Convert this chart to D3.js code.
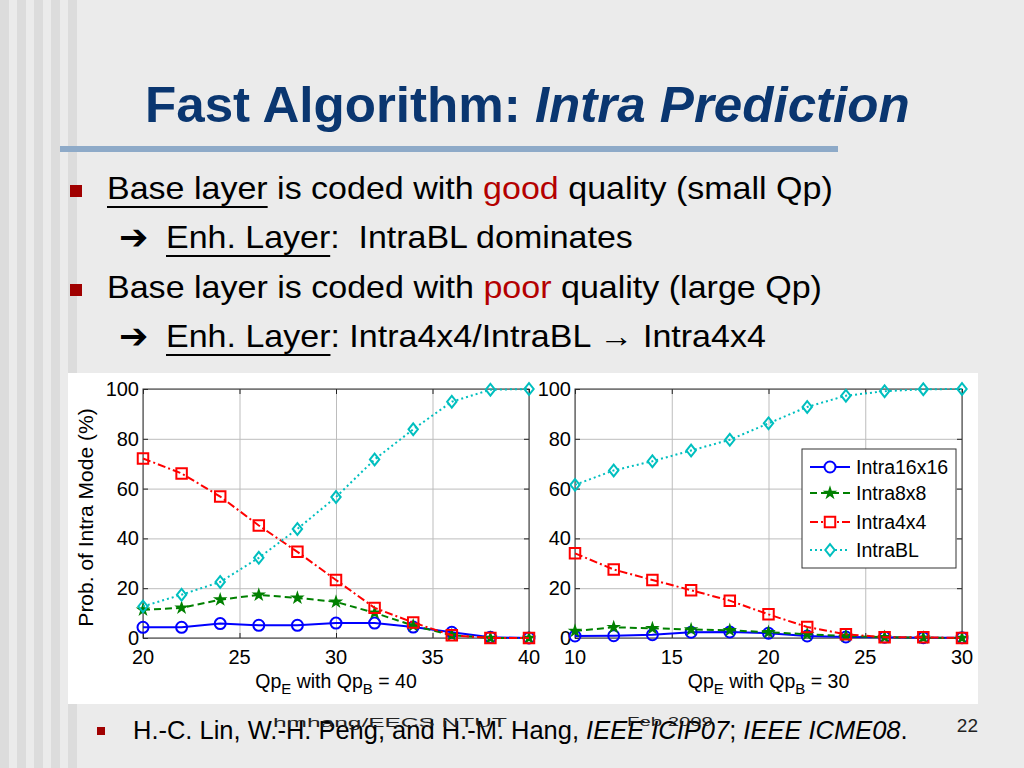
<!DOCTYPE html>
<html>
<head>
<meta charset="utf-8">
<script src="https://cdnjs.cloudflare.com/ajax/libs/d3/7.8.5/d3.min.js"></script>
<style>
html, body { margin: 0; padding: 0; background: #ebebeb; overflow: hidden; }
text { font-family: "Liberation Sans", Arial, sans-serif; }
</style>
</head>
<body>
<script>
// data
const modes = ['Intra16x16', 'Intra8x8', 'Intra4x4', 'IntraBL']
const qpLeft = [20, 22, 24, 26, 28, 30, 32, 34, 36, 38, 40]
const leftIntra16 = [4.3, 4.3, 5.8, 5.1, 5.1, 6.0, 6.0, 4.4, 2.3, 0.3, 0]
const leftIntra8 = [11.3, 12.1, 15.4, 17.3, 16.1, 14.5, 10.1, 5.0, 1.1, 0, 0]
const leftIntra4 = [72.1, 66.1, 56.8, 45.2, 34.6, 23.3, 12.1, 6.2, 1.1, 0, 0]
const leftIntraBL = [12.7, 17.4, 22.5, 32.2, 43.8, 56.6, 71.7, 83.8, 94.9, 99.7, 100]
const qpRight = [10, 12, 14, 16, 18, 20, 22, 24, 26, 28, 30]
const rightIntra16 = [0.8, 0.9, 1.3, 2.3, 2.4, 1.9, 0.8, 0.4, 0.3, 0.1, 0.1]
const rightIntra8 = [2.8, 4.3, 3.9, 3.4, 3.1, 2.3, 1.5, 0.8, 0.3, 0.1, 0]
const rightIntra4 = [34.0, 27.5, 23.3, 19.2, 15.0, 9.5, 4.4, 1.5, 0.3, 0.3, 0]
const rightIntraBL = [61.5, 67.3, 71.0, 75.3, 79.6, 86.2, 92.8, 97.3, 99.1, 99.9, 100]
const xTicksLeft = [20, 25, 30, 35, 40]
const xTicksRight = [10, 15, 20, 25, 30]
const yTicks = [0, 20, 40, 60, 80, 100]

// matlab style diamond, a bit wider than d3's own
const wideDiamond = {
  draw(ctx, size) {
    const h = Math.sqrt(size / 0.8)
    const w = h * 0.8 / 2
    ctx.moveTo(0, -h / 2)
    ctx.lineTo(w, 0)
    ctx.lineTo(0, h / 2)
    ctx.lineTo(-w, 0)
    ctx.closePath()
  }
}

const styles = [
  { color: '#0000ff', dash: null, symbol: d3.symbolCircle, size: 95, fill: 'none' },
  { color: '#008000', dash: '7,4', symbol: d3.symbolStar, size: 22, fill: '#008000' },
  { color: '#ff0000', dash: '8,3,2,3', symbol: d3.symbolSquare, size: 110, fill: 'none' },
  { color: '#00bfbf', dash: '2,3', symbol: wideDiamond, size: 110, fill: 'none' }
]

const W = 1024, H = 768
const svg = d3.select('body').append('svg')
  .attr('width', W)
  .attr('height', H)

// slide background and left stripes
svg.append('rect').attr('width', W).attr('height', H).attr('fill', '#ebebeb')
const stripes = [0, 17, 34, 51, 68]
svg.selectAll('rect.stripe')
  .data(stripes)
  .enter()
  .append('rect')
  .attr('class', 'stripe')
  .attr('x', d => d)
  .attr('y', 0)
  .attr('width', 9)
  .attr('height', H)
  .attr('fill', '#dcdcdc')

// draws a run of styled pieces, then stretches it to the wanted width
function richLine(x, y, segs, size, target, base) {
  const g = svg.append('g').attr('transform', `translate(${x},${y})`)
  const t = g.append('text')
    .attr('font-size', size)
    .attr('fill', base || '#000')
    .style('white-space', 'pre')
  segs.forEach(s => {
    const sp = t.append('tspan').text(s.t)
    if (s.c) sp.attr('fill', s.c)
    if (s.i) sp.attr('font-style', 'italic')
    if (s.b) sp.attr('font-weight', 'bold')
  })
  const w = t.node().getComputedTextLength()
  const sx = target ? target / w : 1
  g.attr('transform', `translate(${x},${y}) scale(${sx},1)`)
  let idx = 0
  segs.forEach(s => {
    if (s.u) {
      const a = t.node().getStartPositionOfChar(idx).x
      const b = t.node().getEndPositionOfChar(idx + s.t.length - 1).x
      g.append('line')
        .attr('x1', a).attr('x2', b)
        .attr('y1', 8).attr('y2', 8)
        .attr('stroke', '#000')
        .attr('stroke-width', 2)
    }
    idx += s.t.length
  })
  return g
}

// title + rule
richLine(145, 122, [{ t: 'Fast Algorithm: ', b: true }, { t: 'Intra Prediction', b: true, i: true }], 50, 765, '#0a3670')
svg.append('rect').attr('x', 60).attr('y', 146).attr('width', 778).attr('height', 6).attr('fill', '#8eaac8')

// bullets
const bullets = [{ x: 70, y: 185 }, { x: 70, y: 284 }]
svg.selectAll('rect.bullet')
  .data(bullets)
  .enter()
  .append('rect')
  .attr('class', 'bullet')
  .attr('x', d => d.x).attr('y', d => d.y)
  .attr('width', 12).attr('height', 12)
  .attr('fill', '#a00000')

richLine(107, 199, [
  { t: 'Base layer', u: true }, { t: ' is coded with ' }, { t: 'good', c: '#b40000' }, { t: ' quality (small Qp)' }
], 31, 726)
richLine(166, 248, [
  { t: 'Enh. Layer', u: true }, { t: ':  IntraBL dominates' }
], 31, 467)
richLine(107, 298, [
  { t: 'Base layer is coded with ' }, { t: 'poor', c: '#b40000' }, { t: ' quality (large Qp)' }
], 31, 715)
richLine(166, 347, [
  { t: 'Enh. Layer', u: true }, { t: ': Intra4x4/IntraBL \u2192 Intra4x4' }
], 31, 600)

const arrows = [249, 348]
svg.selectAll('text.arrow')
  .data(arrows)
  .enter()
  .append('text')
  .attr('class', 'arrow')
  .attr('x', 119).attr('y', d => d)
  .attr('font-size', 35)
  .attr('font-weight', 'bold')
  .style('font-family', '"DejaVu Sans", sans-serif')
  .text('\u2794')

// white chart panel
svg.append('rect')
  .attr('x', 68).attr('y', 373)
  .attr('width', 910).attr('height', 331)
  .attr('fill', '#ffffff')

const y = d3.scaleLinear().domain([0, 100]).range([638, 389])

function panel(xs, series, xTicks, x0, x1, qpB, withYLabel) {
  const x = d3.scaleLinear().domain([xs[0], xs[xs.length - 1]]).range([x0, x1])
  const g = svg.append('g')
  const top = y(100), bot = y(0)

  // grid
  g.append('g')
    .attr('transform', `translate(0,${bot})`)
    .call(d3.axisBottom(x).tickValues(xTicks).tickSize(-(bot - top)).tickFormat(''))
    .call(a => a.select('.domain').remove())
    .call(a => a.selectAll('line').attr('stroke', '#bdbdbd').attr('stroke-width', 1))
  g.append('g')
    .attr('transform', `translate(${x0},0)`)
    .call(d3.axisLeft(y).tickValues(yTicks).tickSize(-(x1 - x0)).tickFormat(''))
    .call(a => a.select('.domain').remove())
    .call(a => a.selectAll('line').attr('stroke', '#bdbdbd').attr('stroke-width', 1))

  // inward ticks on all four sides
  const tk = 5
  const axes = [
    d3.axisBottom(x).tickValues(xTicks).tickSize(-tk).tickFormat(''),
    d3.axisTop(x).tickValues(xTicks).tickSize(-tk).tickFormat(''),
    d3.axisLeft(y).tickValues(yTicks).tickSize(-tk).tickFormat(''),
    d3.axisRight(y).tickValues(yTicks).tickSize(-tk).tickFormat('')
  ]
  const shifts = [`translate(0,${bot})`, `translate(0,${top})`, `translate(${x0},0)`, `translate(${x1},0)`]
  axes.forEach((ax, i) => {
    g.append('g')
      .attr('transform', shifts[i])
      .call(ax)
      .call(a => a.select('.domain').remove())
      .call(a => a.selectAll('line').attr('stroke', '#222'))
  })
  g.append('rect')
    .attr('x', x0).attr('y', top)
    .attr('width', x1 - x0).attr('height', bot - top)
    .attr('fill', 'none')
    .attr('stroke', '#333')
    .attr('stroke-width', 1)

  // tick labels
  g.selectAll('text.xl')
    .data(xTicks)
    .enter()
    .append('text')
    .attr('x', d => x(d)).attr('y', 664)
    .attr('text-anchor', 'middle')
    .attr('font-size', 20)
    .text(d => d)
  g.selectAll('text.yl')
    .data(yTicks)
    .enter()
    .append('text')
    .attr('x', x0 - 4).attr('y', d => y(d) + 7)
    .attr('text-anchor', 'end')
    .attr('font-size', 20)
    .text(d => d)

  // axis title with subscripts
  const xl = g.append('text')
    .attr('x', (x0 + x1) / 2).attr('y', 688)
    .attr('text-anchor', 'middle')
    .attr('font-size', 19.5)
  xl.append('tspan').text('Qp')
  xl.append('tspan').text('E').attr('font-size', 15).attr('dy', 6)
  xl.append('tspan').text(' with Qp').attr('dy', -6)
  xl.append('tspan').text('B').attr('font-size', 15).attr('dy', 6)
  xl.append('tspan').text(' = ' + qpB).attr('dy', -6)

  if (withYLabel) {
    g.append('text')
      .attr('transform', `translate(93,${(top + bot) / 2 + 4}) rotate(-90)`)
      .attr('text-anchor', 'middle')
      .attr('font-size', 21)
      .text('Prob. of Intra Mode (%)')
  }

  // series
  const line = d3.line().x((d, i) => x(xs[i])).y(d => y(d))
  series.forEach((vals, k) => {
    const st = styles[k]
    g.append('path')
      .datum(vals)
      .attr('d', line)
      .attr('fill', 'none')
      .attr('stroke', st.color)
      .attr('stroke-width', 2)
      .attr('stroke-dasharray', st.dash)
    g.selectAll('path.m' + k)
      .data(vals)
      .enter()
      .append('path')
      .attr('class', 'm' + k)
      .attr('transform', (d, i) => `translate(${x(xs[i])},${y(d)})`)
      .attr('d', d3.symbol().type(st.symbol).size(st.size))
      .attr('fill', st.fill)
      .attr('stroke', st.color)
      .attr('stroke-width', 2)
  })
  return x
}

panel(qpLeft, [leftIntra16, leftIntra8, leftIntra4, leftIntraBL], xTicksLeft, 143, 529, 40, true)
panel(qpRight, [rightIntra16, rightIntra8, rightIntra4, rightIntraBL], xTicksRight, 575, 962, 30, false)

// legend
const lg = svg.append('g').attr('transform', 'translate(802,449)')
lg.append('rect')
  .attr('width', 154).attr('height', 119)
  .attr('fill', '#fff')
  .attr('stroke', '#333')
const rows = [18, 44, 73, 101]
modes.forEach((m, k) => {
  const st = styles[k]
  const ry = rows[k]
  lg.append('line')
    .attr('x1', 8).attr('x2', 48)
    .attr('y1', ry).attr('y2', ry)
    .attr('stroke', st.color)
    .attr('stroke-width', 2)
    .attr('stroke-dasharray', st.dash)
  lg.append('path')
    .attr('transform', `translate(28,${ry})`)
    .attr('d', d3.symbol().type(st.symbol).size(st.size))
    .attr('fill', st.fill === 'none' ? '#fff' : st.fill)
    .attr('stroke', st.color)
    .attr('stroke-width', 2)
  lg.append('text')
    .attr('x', 54).attr('y', ry + 7)
    .attr('font-size', 19.5)
    .text(m)
})

// footer
svg.append('rect').attr('x', 97).attr('y', 727).attr('width', 8).attr('height', 8).attr('fill', '#a00000')
richLine(133, 739, [
  { t: 'H.-C. Lin, W.-H. Peng, and H.-M. Hang, ' }, { t: 'IEEE ICIP07', i: true }, { t: '; ' }, { t: 'IEEE ICME08', i: true }, { t: '.' }
], 25, 775)
richLine(273, 727, [{ t: 'hmhang/EECS NTUT' }], 12, 234, '#222')
richLine(627, 726, [{ t: 'Feb 2009' }], 12, 86, '#222')
svg.append('text')
  .attr('x', 978).attr('y', 732)
  .attr('text-anchor', 'end')
  .attr('font-size', 19)
  .attr('fill', '#222')
  .text('22')
</script>
</body>
</html>
